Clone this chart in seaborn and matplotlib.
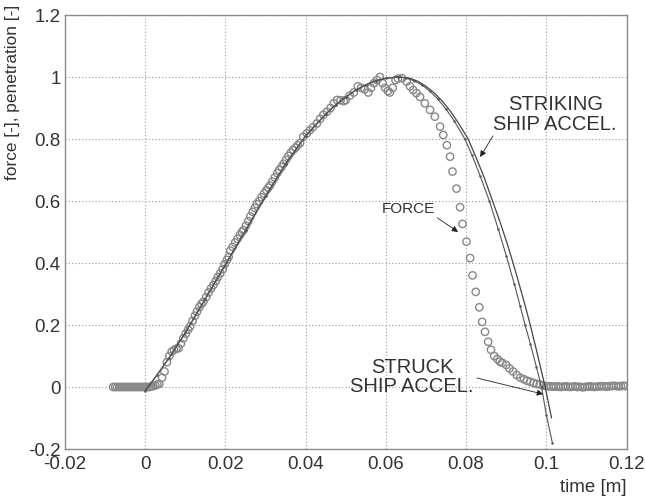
import matplotlib
matplotlib.use("Agg")
import matplotlib.pyplot as plt
import seaborn as sns
import pandas as pd

# Measured force history (normalised), open circles
force_t = [
    -0.0080, -0.0075, -0.0070, -0.0065, -0.0060, -0.0055, -0.0050, -0.0045,
    -0.0040, -0.0035, -0.0030, -0.0025, -0.0020, -0.0015, -0.0010, -0.0005,
    0.0000, 0.0005, 0.0010, 0.0015, 0.0020, 0.0025, 0.0030,
    0.0035, 0.0042, 0.0048, 0.0054, 0.0060, 0.0066, 0.0072, 0.0078, 0.0083,
    0.0089, 0.0095, 0.0101, 0.0107, 0.0112, 0.0118, 0.0124, 0.0129, 0.0135,
    0.0140, 0.0145, 0.0152, 0.0158, 0.0164, 0.0170, 0.0176, 0.0181, 0.0187,
    0.0193, 0.0198, 0.0204, 0.0208, 0.0212, 0.0218, 0.0224, 0.0230, 0.0236,
    0.0241, 0.0245, 0.0251, 0.0257, 0.0262, 0.0268, 0.0273, 0.0278, 0.0284,
    0.0290, 0.0296, 0.0302, 0.0307, 0.0311, 0.0317, 0.0323, 0.0329, 0.0334,
    0.0340, 0.0345, 0.0351, 0.0357, 0.0363, 0.0369, 0.0375, 0.0380, 0.0386,
    0.0394, 0.0403, 0.0410, 0.0418, 0.0428, 0.0436, 0.0444, 0.0453, 0.0462,
    0.0470, 0.0478, 0.0487, 0.0495, 0.0500, 0.0510, 0.0520, 0.0530, 0.0538,
    0.0547, 0.0556, 0.0563, 0.0570, 0.0578, 0.0585, 0.0592, 0.0598, 0.0605,
    0.0610, 0.0617, 0.0624, 0.0630, 0.0640, 0.0652, 0.0660, 0.0668, 0.0676,
    0.0685, 0.0697, 0.0710, 0.0722, 0.0735, 0.0743, 0.0752, 0.0760, 0.0766,
    0.0776, 0.0785, 0.0791, 0.0801, 0.0810, 0.0816, 0.0824, 0.0833, 0.0840,
    0.0847, 0.0855, 0.0862, 0.0870, 0.0878, 0.0884, 0.0890, 0.0900, 0.0908,
    0.0917, 0.0926, 0.0935, 0.0944, 0.0952, 0.0960, 0.0968, 0.0976, 0.0984,
    0.0992, 0.1000,
    0.1006, 0.1012, 0.1018, 0.1024, 0.1030, 0.1036, 0.1042, 0.1048, 0.1054,
    0.1060, 0.1066, 0.1072, 0.1078, 0.1084, 0.1090, 0.1096, 0.1102, 0.1108,
    0.1114, 0.1120, 0.1126, 0.1132, 0.1138, 0.1144, 0.1150, 0.1156, 0.1162,
    0.1168, 0.1174, 0.1180, 0.1186, 0.1192, 0.1198,
]
force_v = [
    0.000, 0.000, 0.000, 0.000, 0.000, 0.000, 0.000, 0.000,
    0.000, 0.000, 0.000, 0.000, 0.000, 0.000, 0.000, 0.000,
    0.000, 0.000, 0.000, 0.002, 0.003, 0.005, 0.008,
    0.010, 0.030, 0.050, 0.080, 0.100, 0.114, 0.120, 0.124, 0.125,
    0.140, 0.157, 0.172, 0.185, 0.195, 0.213, 0.230, 0.243, 0.258,
    0.268, 0.275, 0.290, 0.305, 0.318, 0.329, 0.342, 0.355, 0.367,
    0.380, 0.396, 0.410, 0.420, 0.440, 0.452, 0.466, 0.478, 0.490,
    0.500, 0.506, 0.520, 0.535, 0.550, 0.565, 0.578, 0.590, 0.600,
    0.612, 0.624, 0.635, 0.643, 0.650, 0.663, 0.676, 0.690, 0.700,
    0.710, 0.720, 0.733, 0.745, 0.756, 0.765, 0.772, 0.780, 0.787,
    0.807, 0.818, 0.828, 0.838, 0.850, 0.865, 0.878, 0.888, 0.900,
    0.915, 0.926, 0.925, 0.922, 0.926, 0.940, 0.950, 0.970, 0.965,
    0.960, 0.950, 0.965, 0.980, 0.990, 1.000, 0.980, 0.965, 0.955,
    0.950, 0.965, 0.990, 0.995, 0.996, 0.985, 0.970, 0.958, 0.948,
    0.936, 0.915, 0.894, 0.872, 0.840, 0.813, 0.780, 0.743, 0.695,
    0.640, 0.580, 0.526, 0.469, 0.416, 0.360, 0.307, 0.257, 0.210,
    0.178, 0.146, 0.120, 0.100, 0.090, 0.082, 0.078, 0.071, 0.060,
    0.050, 0.039, 0.030, 0.025, 0.020, 0.017, 0.013, 0.010, 0.008,
    0.005, 0.003,
    0.002, 0.002, 0.001, 0.001, 0.002, 0.000, 0.001, 0.002, 0.001,
    0.000, 0.001, 0.002, 0.000, 0.001, -0.001, 0.000, 0.001, 0.002,
    0.001, 0.000, 0.001, 0.002, 0.003, 0.002, 0.001, 0.002, 0.003,
    0.004, 0.003, 0.002, 0.003, 0.004, 0.003,
]

# Striking ship acceleration (solid line)
striking_t = [0.0000, 0.0030, 0.0060, 0.0100, 0.0150, 0.0200, 0.0250, 0.0300,
              0.0350, 0.0400, 0.0450, 0.0475, 0.0500, 0.0525, 0.0550, 0.0575,
              0.0600, 0.0635, 0.0660, 0.0680, 0.0700, 0.0720, 0.0740, 0.0760,
              0.0780, 0.0805, 0.0825, 0.0845, 0.0866, 0.0885, 0.0905, 0.0925,
              0.0945, 0.0960, 0.0975, 0.0997, 0.1013]
striking_v = [-0.012, 0.040, 0.095, 0.175, 0.285, 0.395, 0.505, 0.615,
              0.720, 0.810, 0.880, 0.910, 0.935, 0.958, 0.975, 0.988,
              0.996, 1.000, 0.996, 0.986, 0.970, 0.949, 0.923, 0.891,
              0.853, 0.800, 0.740, 0.676, 0.600, 0.531, 0.452, 0.365,
              0.273, 0.200, 0.121, 0.000, -0.100]

# Struck ship acceleration (thin line with dot markers)
struck_t = [0.0000, 0.0030, 0.0060, 0.0100, 0.0150, 0.0200, 0.0250, 0.0300,
            0.0350, 0.0400, 0.0450, 0.0475, 0.0500, 0.0525, 0.0550, 0.0575,
            0.0600, 0.0630, 0.0650, 0.0670, 0.0690, 0.0710, 0.0730, 0.0750,
            0.0770, 0.0797, 0.0815, 0.0835, 0.0858, 0.0880, 0.0900, 0.0920,
            0.0935, 0.0947, 0.0960, 0.0975, 0.0988, 0.1000, 0.1015]
struck_v = [-0.012, 0.040, 0.095, 0.175, 0.285, 0.395, 0.505, 0.615,
            0.720, 0.810, 0.880, 0.910, 0.935, 0.958, 0.975, 0.988,
            0.996, 1.000, 0.997, 0.988, 0.974, 0.954, 0.928, 0.896,
            0.859, 0.800, 0.747, 0.681, 0.600, 0.510, 0.424, 0.333,
            0.260, 0.200, 0.140, 0.066, 0.000, -0.090, -0.180]

x_ticks = [-0.02, 0, 0.02, 0.04, 0.06, 0.08, 0.1, 0.12]
x_tick_labels = ["-0.02", "0", "0.02", "0.04", "0.06", "0.08", "0.1", "0.12"]
y_ticks = [-0.2, 0, 0.2, 0.4, 0.6, 0.8, 1, 1.2]
y_tick_labels = ["-0.2", "0", "0.2", "0.4", "0.6", "0.8", "1", "1.2"]

sns.set_theme(style="white")
plt.rcParams["font.family"] = ["Liberation Sans", "DejaVu Sans"]

force_df = pd.DataFrame({"t": force_t, "v": force_v})
striking_df = pd.DataFrame({"t": striking_t, "v": striking_v})
struck_df = pd.DataFrame({"t": struck_t, "v": struck_v})

fig = plt.figure(figsize=(6.45, 5.0), dpi=100)
ax = fig.add_axes([0.1008, 0.102, 0.8706, 0.868])

frame_col = "#8a8a8a"
text_col = "#333333"

ax.grid(True, color="#9a9a9a", linestyle=(0, (1, 2)), linewidth=0.8)
ax.set_axisbelow(True)

sns.scatterplot(data=force_df, x="t", y="v", ax=ax, marker="o", s=28,
                facecolors="none", edgecolor="#888888", linewidth=1.0,
                zorder=2, legend=False)
sns.lineplot(data=striking_df, x="t", y="v", ax=ax, sort=False, estimator=None,
             color="#444444", linewidth=0.9, zorder=3)
sns.lineplot(data=struck_df, x="t", y="v", ax=ax, sort=False, estimator=None,
             color="#555555", linewidth=0.8, marker="o", markersize=1.8,
             markeredgewidth=0, zorder=3)

ax.set_xlim(-0.02, 0.12)
ax.set_ylim(-0.2, 1.2)
ax.set_xticks(x_ticks)
ax.set_xticklabels(x_tick_labels)
ax.set_yticks(y_ticks)
ax.set_yticklabels(y_tick_labels)
ax.tick_params(axis="both", direction="in", length=4, width=0.8,
               color=frame_col, labelsize=13.5, labelcolor=text_col)
ax.tick_params(axis="x", pad=5)
ax.tick_params(axis="y", pad=3)
for side in ax.spines.values():
    side.set_color(frame_col)
    side.set_linewidth(1.0)

ax.set_xlabel("time [m]", fontsize=13.5, color=text_col, ha="right", va="center")
ax.xaxis.set_label_coords(1.0, -0.088)
ax.set_ylabel("force [-], penetration [-]", fontsize=12.4, color=text_col,
              va="center")
ax.yaxis.set_label_coords(-0.094, 0.822)

arrow = dict(arrowstyle="-|>", color="#222222", lw=0.6, mutation_scale=9,
             shrinkA=0, shrinkB=0)
ax.annotate("STRIKING\nSHIP ACCEL.", xy=(0.1022, 0.88), xytext=(0.1022, 0.88),
            ha="center", va="center", fontsize=14.5, color=text_col,
            linespacing=1.05)
ax.annotate("", xy=(0.0835, 0.742), xytext=(0.0867, 0.81), arrowprops=arrow)
ax.annotate("FORCE", xy=(0.0656, 0.575), xytext=(0.0656, 0.575),
            ha="center", va="center", fontsize=11, color=text_col)
ax.annotate("", xy=(0.0780, 0.50), xytext=(0.0728, 0.546), arrowprops=arrow)
ax.annotate("STRUCK\nSHIP ACCEL.", xy=(0.0665, 0.032), xytext=(0.0665, 0.032),
            ha="center", va="center", fontsize=14.5, color=text_col,
            linespacing=1.05)
ax.annotate("", xy=(0.0992, -0.023), xytext=(0.0827, 0.029), arrowprops=arrow)

fig.savefig("out.png", dpi=100)
